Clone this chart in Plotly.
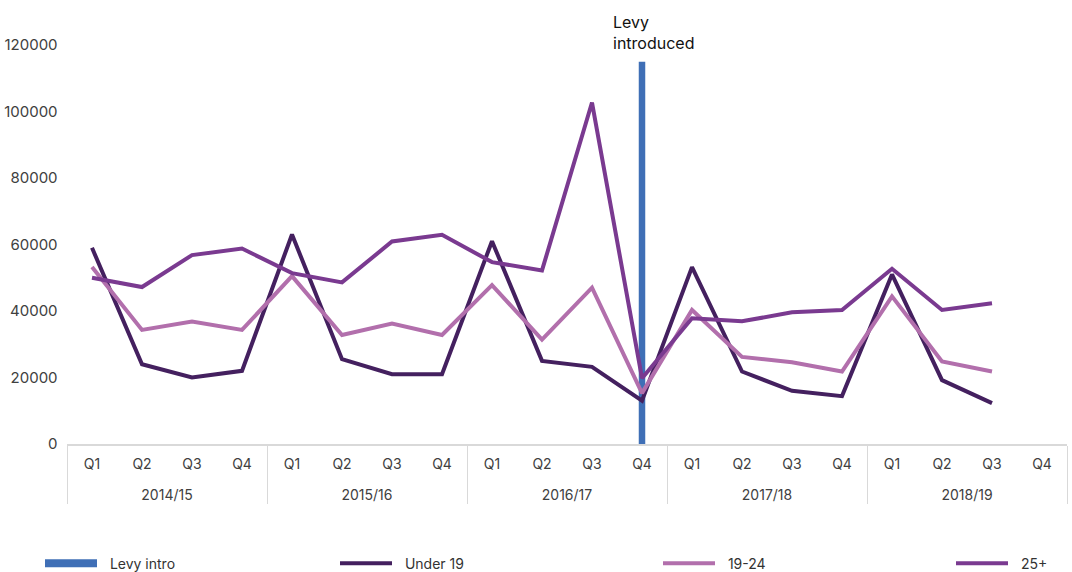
import plotly.graph_objects as go

# Financial years and quarters (two-level category axis)
years = ["2014/15", "2015/16", "2016/17", "2017/18", "2018/19"]
quarters = ["Q1", "Q2", "Q3", "Q4"]

# Apprenticeship starts by age group, per quarter (2018/19 Q4 not yet available)
under_19 = [59000, 24000, 20000, 22000,
            63000, 25500, 21000, 21000,
            61000, 25000, 23200, 13000,
            53200, 21800, 16000, 14400,
            51000, 19200, 12300, None]
age_19_24 = [53200, 34300, 36800, 34300,
             50500, 32800, 36200, 32800,
             47800, 31400, 47000, 15300,
             40300, 26200, 24600, 21800,
             44400, 24800, 21800, None]
age_25_plus = [50000, 47200, 56800, 58800,
               51400, 48600, 60900, 62900,
               54700, 52200, 102700, 19800,
               37800, 36900, 39600, 40300,
               52700, 40300, 42300, None]

# Quarter in which the levy was introduced, and height of its marker bar
levy_year = "2016/17"
levy_quarter = "Q4"
levy_bar_height = 115000


def year_label(y):
    # leading blank line drops the year row further below the quarter row
    return "<br>" + y


x_outer = [year_label(y) for y in years for _ in quarters]
x_inner = [q for _ in years for q in quarters]
levy_x = [[year_label(levy_year)], [levy_quarter]]

C_LEVY = "#3f6fb6"
C_U19 = "#44205f"
C_1924 = "#b26fac"
C_25 = "#7a3a90"
FONT = "Inter"
GAP = "\u00a0\u00a0"  # extra room between legend swatch and label

fig = go.Figure()

# legend-only entry for the levy marker (drawn as a wide band)
fig.add_trace(go.Scatter(
    x=[[None], [None]], y=[None], mode="lines", name=GAP + "Levy intro",
    line=dict(color=C_LEVY, width=8), legend="legend", hoverinfo="skip"))

fig.add_trace(go.Scatter(
    x=[x_outer, x_inner], y=under_19, mode="lines", name=GAP + "Under 19",
    line=dict(color=C_U19, width=4), legend="legend2"))
fig.add_trace(go.Scatter(
    x=[x_outer, x_inner], y=age_19_24, mode="lines", name=GAP + "19-24",
    line=dict(color=C_1924, width=4), legend="legend3"))
fig.add_trace(go.Scatter(
    x=[x_outer, x_inner], y=age_25_plus, mode="lines", name=GAP + "25+",
    line=dict(color=C_25, width=4), legend="legend4"))

fig.add_trace(go.Bar(
    x=levy_x, y=[levy_bar_height],
    marker=dict(color=C_LEVY, line=dict(width=0)), width=0.13,
    showlegend=False))

fig.add_annotation(
    x=[levy_x[0][0], levy_x[1][0]], y=levy_bar_height, xref="x", yref="y",
    text="Levy<br>introduced", showarrow=False, align="left",
    xanchor="left", yanchor="bottom", xshift=-31, yshift=7,
    font=dict(family=FONT, size=16, color="#111111"))

legend_common = dict(orientation="h", yanchor="middle", xanchor="left",
                     y=-0.30, itemwidth=52, bgcolor="rgba(0,0,0,0)",
                     font=dict(family=FONT, size=14, color="#333333"))
fig.update_layout(
    width=1072, height=572,
    margin=dict(l=67, r=5, t=45, b=128, autoexpand=False),
    paper_bgcolor="white", plot_bgcolor="white",
    font=dict(family=FONT, size=14, color="#404040"),
    barmode="overlay",
    legend=dict(x=-0.027, **legend_common),
    legend2=dict(x=0.268, **legend_common),
    legend3=dict(x=0.591, **legend_common),
    legend4=dict(x=0.884, **legend_common),
    xaxis=dict(type="multicategory", range=[-0.5, 19.5], automargin=False,
               showline=True, mirror=False, linecolor="#d9d9d9",
               linewidth=2, showgrid=False, ticks="", ticklabelstandoff=6,
               showdividers=True, dividercolor="#d9d9d9", dividerwidth=1,
               tickfont=dict(family=FONT, size=14, color="#404040")),
    yaxis=dict(range=[0, 120000], dtick=20000, showgrid=False,
               zeroline=False, showline=False, ticks="", automargin=False,
               tickformat="d", ticksuffix="  ",
               tickfont=dict(family=FONT, size=15, color="#404040")),
)

fig.write_html("out.html")
